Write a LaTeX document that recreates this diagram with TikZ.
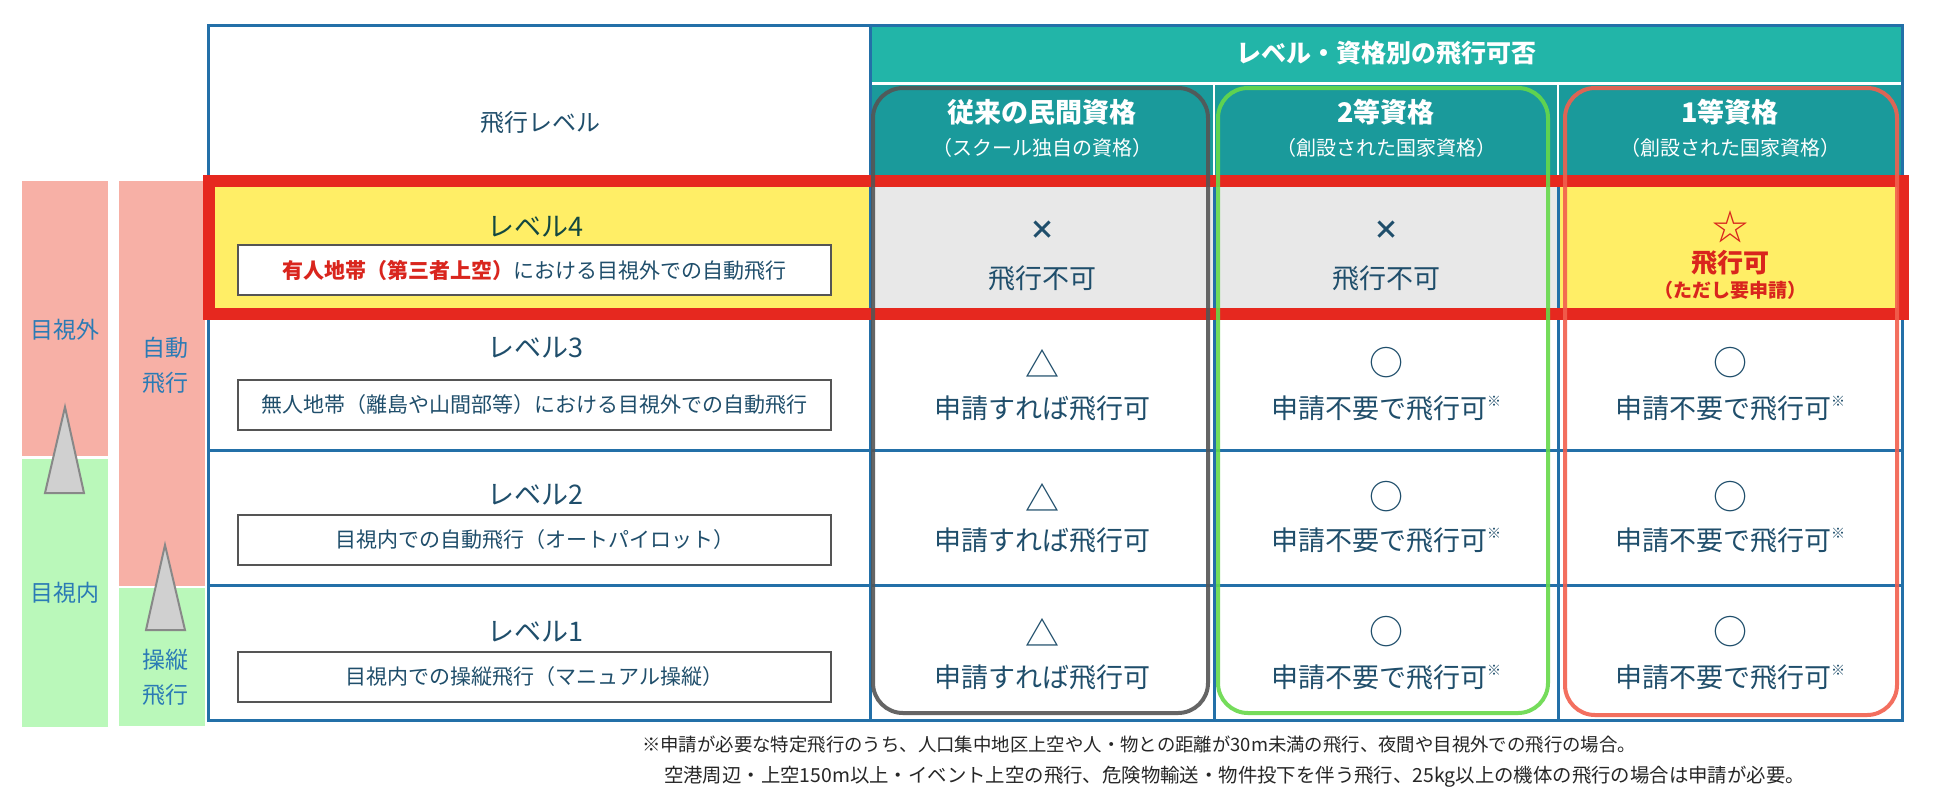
\documentclass[tikz,border=0pt]{standalone}
\usepackage{fontspec}
\setmainfont{Noto Sans CJK JP}
\definecolor{tblue}{HTML}{2370A8}
\definecolor{txt}{HTML}{1F4E6B}
\definecolor{lbl}{HTML}{2B7BB5}
\definecolor{tealA}{HTML}{22B5A8}
\definecolor{tealB}{HTML}{1A9A9B}
\definecolor{ylw}{HTML}{FFEE66}
\definecolor{gcell}{HTML}{E8E8E8}
\definecolor{rbox}{HTML}{E6281F}
\definecolor{pinkb}{HTML}{F7B0A6}
\definecolor{greenb}{HTML}{BAF8BA}
\definecolor{hlgray}{HTML}{555555}
\definecolor{hlgreen}{HTML}{66D94A}
\definecolor{hlred}{HTML}{F2604E}
\definecolor{redtxt}{HTML}{D9251D}
\definecolor{trifill}{HTML}{D0D0D0}
\definecolor{triline}{HTML}{888888}
\newcommand{\fsz}[1]{\fontsize{#1}{#1}\selectfont}
\begin{document}
\begin{tikzpicture}[x=0.5pt,y=-0.5pt,
  every node/.style={inner sep=0pt,outer sep=0pt},
  tline/.style={tblue,line width=1.5pt},
  tri/.style={fill=trifill,draw=triline,line width=1pt},
  descbox/.style={draw=hlgray,fill=white,line width=1pt,minimum width=296.5pt,minimum height=25pt,font=\fsz{10.5},text=txt},
  lvl/.style={font=\fsz{13.5},text=txt},
  hdr/.style={font=\fsz{13.5}\bfseries,text=white},
  subh/.style={font=\fsz{10}\selectfont,text=white},
  sym/.style={font=\fsz{17},text=txt},
  res/.style={font=\fsz{13.5},text=txt},
  side/.style={font=\fsz{11.5},text=lbl},
  hl/.style={line width=2pt,rounded corners=15pt,draw opacity=0.9},
  note/.style={text=black!85,anchor=west}]
\useasboundingbox (0,0) rectangle (1934,800);
\fill[white] (0,0) rectangle (1934,800);
% side bars
\fill[pinkb] (22,181) rectangle (108,456);
\fill[greenb] (22,459) rectangle (108,727);
\fill[pinkb] (119,181) rectangle (205,586);
\fill[greenb] (119,588) rectangle (205,726);
\draw[tri] (65,407) -- (84,493) -- (45,493) -- cycle;
\draw[tri] (165,545) -- (185,630) -- (146,630) -- cycle;
\node[side] (s1) at (65,330) {目視外};
\node[side] (s2) at (65,593) {目視内};
\node[side] (s3) at (165,348) {自動};
\node[side] (s4) at (165,383) {飛行};
\node[side] (s5) at (165,660) {操縦};
\node[side] (s6) at (165,695) {飛行};
% table fills
\fill[white] (208,25) rectangle (870,181);
\fill[tealA] (870,25) rectangle (1902,83);
\fill[tealB] (870,84) rectangle (1902,181);
\fill[ylw] (208,181) rectangle (870,315);
\fill[gcell] (870,181) rectangle (1558,315);
\fill[ylw] (1558,181) rectangle (1902,315);
\draw[white,line width=1.3pt] (870,83.5) -- (1902,83.5);
\draw[white,line width=1pt] (1214,84) -- (1214,181);
\draw[white,line width=1pt] (1558,84) -- (1558,181);
% grid
\draw[tline] (870,25) -- (870,720);
\draw[tline] (1214,181) -- (1214,720);
\draw[tline] (1558,181) -- (1558,720);
\draw[tline] (208,315) -- (1902,315);
\draw[tline] (208,450) -- (1902,450);
\draw[tline] (208,585) -- (1902,585);
\draw[tline] (208,25) rectangle (1902,720);
% red box
\draw[rbox,line width=6pt] (209,181) rectangle (1903,314);
% header
\node[font=\fsz{12},text=txt] (h0) at (540,122) {飛行レベル};
\node[font=\fsz{12.5}\bfseries,text=white] (h1) at (1386,53) {レベル・資格別の飛行可否};
\node[hdr] (c1a) at (1042,112) {従来の民間資格};
\node[subh] (c1b) at (1042,148) {（スクール独自の資格）};
\node[hdr] (c2a) at (1386,112) {2等資格};
\node[subh] (c2b) at (1386,148) {（創設された国家資格）};
\node[hdr] (c3a) at (1730,112) {1等資格};
\node[subh] (c3b) at (1730,148) {（創設された国家資格）};
% level labels and boxes
\node[lvl,text=black!75!green!40!txt] (l4) at (535,227) {レベル4};
\node[descbox] (d4) at (534.5,270) {{\color{redtxt}\bfseries 有人地帯（第三者上空）}における目視外での自動飛行};
\node[lvl] (l3) at (535,348) {レベル3};
\node[descbox] (d3) at (534.5,404.5) {無人地帯（離島や山間部等）における目視外での自動飛行};
\node[lvl] (l2) at (535,495) {レベル2};
\node[descbox] (d2) at (534.5,540) {目視内での自動飛行（オートパイロット）};
\node[lvl] (l1) at (535,632) {レベル1};
\node[descbox] (d1) at (534.5,677) {目視内での操縦飛行（マニュアル操縦）};
% level 4 results
\node[font=\fsz{13}\bfseries,text=txt] (x41) at (1042,230) {×};
\node[res] (r41) at (1042,278) {飛行不可};
\node[font=\fsz{13}\bfseries,text=txt] (x42) at (1386,230) {×};
\node[res] (r42) at (1386,278) {飛行不可};
\node[font=\fsz{18},text=redtxt] (x43) at (1730,227) {☆};
\node[font=\fsz{13}\bfseries,text=redtxt] (r43) at (1730,263) {飛行可};
\node[font=\fsz{9.5}\bfseries,text=redtxt] (r43b) at (1730,290) {（ただし要申請）};
% levels 3-1
\foreach \r/\ys/\yt in {3/363/408,2/497/540,1/632/677}{
  \node[sym] (t\r1) at (1042,\ys) {△};
  \node[res] (q\r1) at (1042,\yt) {申請すれば飛行可};
  \node[sym] (t\r2) at (1386,\ys) {○};
  \node[res] (q\r2) at (1386,\yt) {申請不要で飛行可\raisebox{0.45em}{\fsz{7}※}};
  \node[sym] (t\r3) at (1730,\ys) {○};
  \node[res] (q\r3) at (1730,\yt) {申請不要で飛行可\raisebox{0.45em}{\fsz{7}※}};
}
% highlight boxes
\draw[hl,hlgray] (873,88) rectangle (1208,713);
\draw[hl,hlgreen] (1218,88) rectangle (1548,713);
\draw[hl,hlred] (1565,88) rectangle (1897,715);
% footnote
\node[note,font=\fsz{9.2}] (n1) at (642,745) {※申請が必要な特定飛行のうち、人口集中地区上空や人・物との距離が30m未満の飛行、夜間や目視外での飛行の場合。};
\node[note,font=\fsz{9.7}] (n2) at (664,777) {空港周辺・上空150m以上・イベント上空の飛行、危険物輸送・物件投下を伴う飛行、25kg以上の機体の飛行の場合は申請が必要。};
\end{tikzpicture}
\end{document}
